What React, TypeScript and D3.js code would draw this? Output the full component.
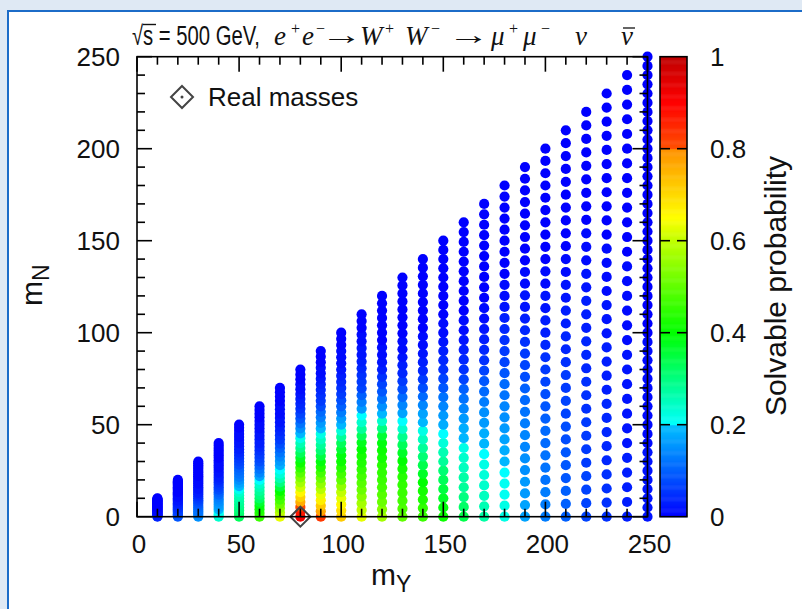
import React from 'react';
import * as d3 from 'd3';

// ---- data ----
const massY = [10, 20, 30, 40, 50, 60, 70, 80, 90, 100, 110, 120, 130, 140, 150, 160, 170, 180, 190, 200, 210, 220, 230, 240, 250];

// solvable probability (in %) for each dot of a column, from mN = 0 up to mN = mY
const prob010 = [4,4,3,3,3,2,2,2,2,1,1,1,1,1,1,0,0,0,0,0,0,0,0,0,0,0,0,0,0,0,0];
const prob020 = [9,9,8,8,7,7,6,5,5,4,4,3,3,2,2,2,1,1,1,1,0,0,0,0,0,0,0,0,0,0,0];
const prob030 = [15,14,13,12,12,11,10,9,8,7,6,5,4,3,3,2,2,2,1,1,1,1,0,0,0,0,0,0,0,0,0];
const prob040 = [24,22,21,19,17,16,15,14,13,11,10,8,7,6,5,4,3,3,2,2,1,1,1,1,0,0,0,0,0,0,0];
const prob050 = [33,32,31,30,29,28,27,26,24,21,19,17,15,13,12,11,10,8,7,6,5,4,3,3,2,2,1,1,1,0,0];
const prob060 = [46,44,42,39,36,32,30,28,26,24,20,17,14,12,10,8,7,6,5,4,3,3,2,2,1,1,1,0,0,0,0];
const prob070 = [63,59,55,51,47,44,40,35,30,26,23,20,18,16,14,12,10,8,6,5,4,3,2,2,1,1,1,0,0,0,0];
const prob080 = [92,87,81,76,71,66,61,57,53,49,45,41,37,33,29,26,22,19,15,12,9,7,5,4,3,2,1,1,0,0,0];
const prob090 = [83,77,72,67,63,59,55,51,47,43,39,35,31,28,25,22,19,16,13,11,8,6,5,4,3,2,1,1,0,0,0];
const prob100 = [72,69,66,63,60,55,50,47,44,41,39,36,33,28,23,19,16,13,10,8,6,5,4,3,2,1,1,1,0,0,0];
const prob110 = [63,60,57,54,51,49,47,45,43,42,40,38,33,28,24,20,16,13,10,7,6,5,4,3,2,2,1,1,0,0,0];
const prob120 = [57,54,51,49,47,46,45,44,42,41,39,36,30,24,19,15,12,9,7,5,3,2,1,1,0,0,0,0,0,0,0];
const prob130 = [50,48,47,46,45,44,42,40,37,33,29,24,20,17,14,11,8,6,4,3,2,1,1,0,0,0,0,0,0,0,0];
const prob140 = [46,45,43,42,40,37,34,31,28,25,22,19,17,14,11,8,6,4,3,2,1,1,0,0,0,0,0,0,0,0,0];
const prob150 = [41,39,37,35,33,31,28,26,23,20,18,16,14,12,9,7,5,4,3,2,1,1,0,0,0,0,0,0,0,0,0];
const prob160 = [34,32,30,28,27,25,24,22,19,18,16,14,12,10,7,5,4,3,2,1,1,0,0,0,0,0,0,0,0,0,0];
const prob170 = [27,26,25,24,23,22,20,19,18,16,15,13,11,9,7,5,4,3,2,1,1,0,0,0,0,0,0,0,0,0,0];
const prob180 = [22,22,21,21,20,19,18,17,16,15,14,12,11,9,7,6,5,4,3,2,1,1,0,0,0,0,0,0,0,0,0];
const prob190 = [17,17,16,16,15,15,14,14,13,12,11,10,8,7,6,5,4,3,2,2,1,1,0,0,0,0,0,0,0,0,0];
const prob200 = [13,13,13,12,12,12,11,11,10,9,8,7,6,5,4,3,3,2,2,1,1,0,0,0,0,0,0,0,0,0,0];
const prob210 = [10,10,10,9,9,9,8,8,7,7,6,6,5,4,4,3,3,2,2,1,1,0,0,0,0,0,0,0,0,0,0];
const prob220 = [7,7,7,7,6,6,6,6,5,5,5,4,4,4,3,3,3,2,2,1,1,1,0,0,0,0,0,0,0,0,0];
const prob230 = [5,5,5,5,4,4,4,4,4,3,3,3,3,2,2,2,1,1,1,1,0,0,0,0,0,0,0,0,0,0,0];
const prob240 = [3,3,3,3,3,2,2,2,2,2,2,2,1,1,1,1,1,1,0,0,0,0,0,0,0,0,0,0,0,0,0];
const prob250 = [2,2,2,2,2,2,2,2,1,1,1,1,1,1,1,1,1,1,1,1,0,0,0,0,0,0,0,0,0,0,0,0,0,0,0,0,0,0,0,0,0,0,0,0,0,0,0,0,0,0,0];

const probColumns = [prob010, prob020, prob030, prob040, prob050, prob060, prob070, prob080, prob090, prob100,
  prob110, prob120, prob130, prob140, prob150, prob160, prob170, prob180, prob190, prob200,
  prob210, prob220, prob230, prob240, prob250];

const realMassY = [80];
const realMassN = [0];

const axisTicks = [0, 50, 100, 150, 200, 250];
const cbTicks = [0, 0.2, 0.4, 0.6, 0.8, 1];
const cbTickLabels = ['0', '0.2', '0.4', '0.6', '0.8', '1'];

const paletteStops = [0, 0.2, 0.2, 0.4, 0.6, 0.65, 0.8, 0.8, 0.9, 1];
const paletteColors = ['#0000ff', '#00c0ff', '#00ffff', '#00ff00', '#c0ff00', '#ffff00', '#ff9000', '#ff5000', '#ff0000', '#c00000'];

// ---- layout ----
const W = 802, H = 609;
const L = 137, R = 647.5, T = 56.7, B = 516.7;
const CBX = 660, CBW = 27;
const SANS = '"Liberation Sans", Arial, Helvetica, sans-serif';
const SERIF = '"Liberation Serif", "Times New Roman", serif';

export default function App() {
  const x = d3.scaleLinear().domain([0, 250]).range([L, R]);
  const y = d3.scaleLinear().domain([0, 250]).range([B, T]);
  const cy = d3.scaleLinear().domain([0, 1]).range([B, T]);
  const color = d3.scaleLinear<string>().domain(paletteStops).range(paletteColors).clamp(true);

  const dots: { cx: number; cy: number; fill: string; key: string }[] = [];
  massY.forEach((my, c) => {
    const col = probColumns[c];
    const n = col.length - 1;
    col.forEach((p, i) => {
      const mn = (i * my) / n;
      dots.push({ cx: x(my), cy: y(mn), fill: color(p / 100), key: `${c}-${i}` });
    });
  });

  const minor = d3.range(0, 251, 10);
  const tickLen = (v: number) => (v % 50 === 0 ? 15 : 8);
  const cbRows = d3.range(0, 1, 0.002);

  const dia = (cx: number, cyy: number, r: number) =>
    `M${cx},${cyy - r}L${cx + r},${cyy}L${cx},${cyy + r}L${cx - r},${cyy}Z`;

  const TB = 45; // title baseline
  const TS = 34; // superscript baseline

  return (
    <svg width={W} height={H} style={{ position: 'absolute', left: 0, top: 0, background: '#dfe9f4' }}>
      {/* page frame */}
      <rect x={8} y={11} width={W - 8} height={H - 11} fill="#ffffff" />
      <line x1={8} y1={10} x2={8} y2={H} stroke="#1c6cc8" strokeWidth={2} />
      <line x1={7} y1={11} x2={W} y2={11} stroke="#1c6cc8" strokeWidth={2} />

      {/* title */}
      <text x={132} y={TB} fontFamily={SANS} fontSize={27} fill="#111" textLength={128} lengthAdjust="spacingAndGlyphs">√s = 500 GeV,</text>
      <line x1={143} x2={156} y1={24.5} y2={24.5} stroke="#111" strokeWidth={1.4} />
      <g fontFamily={SERIF} fill="#111" fontSize={27}>
        <text>
          <tspan x={274} y={TB} fontStyle="italic">e</tspan>
          <tspan x={291} y={TS} fontSize={16}>+</tspan>
          <tspan x={302} y={TB} fontStyle="italic">e</tspan>
          <tspan x={316} y={TS} fontSize={16}>−</tspan>
        </text>
        <text transform={`translate(321,${TB - 1}) scale(1.55,1)`}>→</text>
        <text>
          <tspan x={360} y={TB} fontStyle="italic">W</tspan>
          <tspan x={385} y={TS} fontSize={16}>+</tspan>
          <tspan x={405} y={TB} fontStyle="italic">W</tspan>
          <tspan x={431} y={TS} fontSize={16}>−</tspan>
        </text>
        <text transform={`translate(448,${TB - 1}) scale(1.55,1)`}>→</text>
        <text>
          <tspan x={491} y={TB} fontStyle="italic">μ</tspan>
          <tspan x={509} y={TS} fontSize={16}>+</tspan>
          <tspan x={523} y={TB} fontStyle="italic">μ</tspan>
          <tspan x={541} y={TS} fontSize={16}>−</tspan>
          <tspan x={575} y={TB} fontStyle="italic">ν</tspan>
          <tspan x={621} y={TB} fontStyle="italic">ν</tspan>
        </text>
      </g>
      <line x1={623} x2={635} y1={28} y2={28} stroke="#111" strokeWidth={1.3} />

      {/* dots */}
      <g>
        {dots.map((d) => (
          <circle key={d.key} cx={d.cx} cy={d.cy} r={5.1} fill={d.fill} />
        ))}
      </g>

      {/* real masses */}
      {realMassY.map((m, i) => (
        <path key={`rm${i}`} d={dia(x(m), y(realMassN[i]), 10)} fill="none" stroke="#444" strokeWidth={2} />
      ))}

      {/* frame + ticks */}
      <rect x={L} y={T} width={R - L} height={B - T} fill="none" stroke="#000" strokeWidth={1.6} />
      {minor.map((v) => (
        <g key={`t${v}`} stroke="#000" strokeWidth={1.6}>
          <line x1={x(v)} x2={x(v)} y1={B} y2={B - tickLen(v)} />
          <line x1={x(v)} x2={x(v)} y1={T} y2={T + tickLen(v)} />
          <line x1={L} x2={L + tickLen(v)} y1={y(v)} y2={y(v)} />
          <line x1={R} x2={R - tickLen(v)} y1={y(v)} y2={y(v)} />
        </g>
      ))}

      {/* tick labels */}
      {axisTicks.map((v) => (
        <text key={`xl${v}`} x={x(v) + 2} y={553} textAnchor="middle" fontFamily={SANS} fontSize={26} fill="#111">{v}</text>
      ))}
      {axisTicks.map((v) => (
        <text key={`yl${v}`} x={120} y={y(v) + 9} textAnchor="end" fontFamily={SANS} fontSize={26} fill="#111">{v}</text>
      ))}

      {/* axis titles */}
      <text x={371} y={585} fontFamily={SANS} fontSize={30} fill="#111">
        m<tspan dy={7} fontSize={23}>Y</tspan>
      </text>
      <text transform="translate(42,306) rotate(-90)" fontFamily={SANS} fontSize={30} fill="#111">
        m<tspan dy={7} fontSize={23}>N</tspan>
      </text>

      {/* legend */}
      <path d={dia(182, 97, 11)} fill="none" stroke="#444" strokeWidth={2} />
      <circle cx={182} cy={97} r={1.5} fill="#444" />
      <text x={208} y={106} fontFamily={SANS} fontSize={26} fill="#111">Real masses</text>

      {/* colorbar */}
      <g>
        {cbRows.map((p) => (
          <rect key={`cb${p}`} x={CBX} y={cy(p + 0.002)} width={CBW} height={cy(p) - cy(p + 0.002) + 0.5} fill={color(p + 0.001)} />
        ))}
      </g>
      <rect x={CBX} y={T} width={CBW} height={B - T} fill="none" stroke="#000" strokeWidth={1.6} />
      {cbTicks.slice(1, -1).map((v) => (
        <g key={`cbt${v}`} stroke="#000" strokeWidth={1.6}>
          <line x1={CBX} x2={CBX + 10} y1={cy(v)} y2={cy(v)} />
          <line x1={CBX + CBW} x2={CBX + CBW - 10} y1={cy(v)} y2={cy(v)} />
        </g>
      ))}
      {cbTicks.map((v, i) => (
        <text key={`cbl${v}`} x={710} y={cy(v) + 9} fontFamily={SANS} fontSize={26} fill="#111">{cbTickLabels[i]}</text>
      ))}
      <text transform="translate(786,286) rotate(-90)" textAnchor="middle" fontFamily={SANS} fontSize={30} fill="#111">Solvable probability</text>
    </svg>
  );
}
